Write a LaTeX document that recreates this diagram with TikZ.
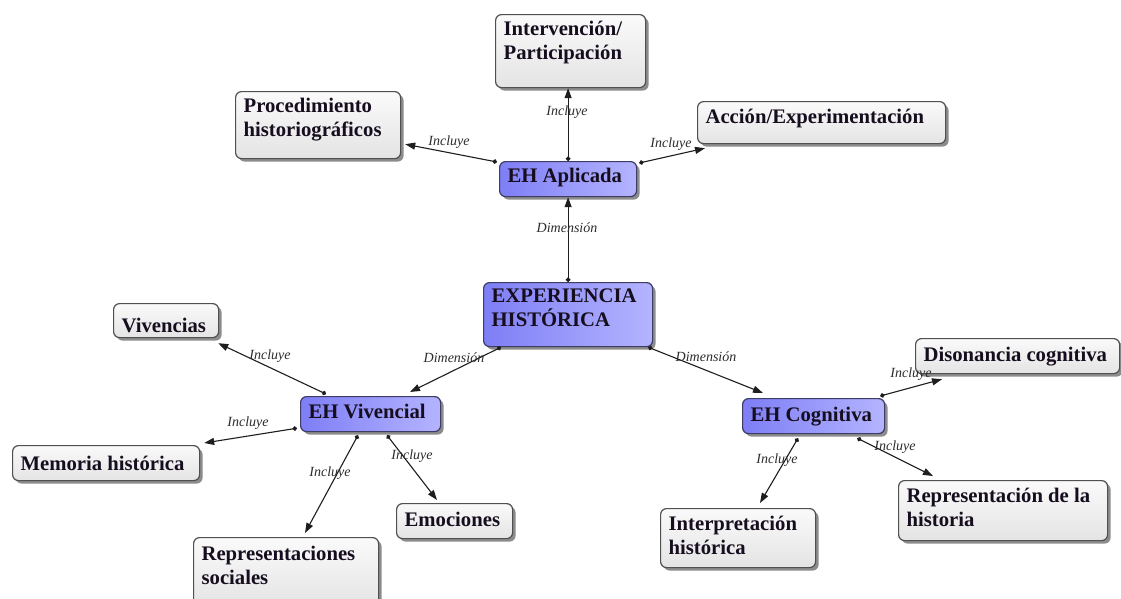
\documentclass[tikz,border=0pt]{standalone}
\usepackage{fontspec}
\setmainfont{Liberation Serif}
\usetikzlibrary{arrows.meta,calc,shadows}

\definecolor{ink}{RGB}{22,14,30}
\definecolor{frame}{RGB}{80,80,80}
\definecolor{bframe}{RGB}{60,60,100}
\definecolor{gtop}{RGB}{250,250,250}
\definecolor{gbot}{RGB}{228,228,228}
\definecolor{bleft}{RGB}{126,126,246}
\definecolor{bright}{RGB}{180,180,255}
\definecolor{wire}{RGB}{30,30,30}
\definecolor{lbltxt}{RGB}{45,45,45}

% fixed-size text block: [first baseline]{width}{height}{text}
\newcommand{\boxtext}[4][21]{\parbox[t][#3pt][t]{#2pt}{\raggedright\fontsize{20.7}{24}\selectfont\bfseries\rule{0pt}{#1pt}#4}}

\tikzset{
  basebox/.style={anchor=north west, rounded corners=6pt, line width=1.2pt,
    inner xsep=8pt, inner ysep=0pt, text=ink,
    drop shadow={shadow xshift=3pt, shadow yshift=-3pt, opacity=0.45, fill=black}},
  gbox/.style={basebox, draw=frame, top color=gtop, bottom color=gbot},
  bbox/.style={basebox, draw=bframe, left color=bleft, right color=bright},
  conn/.style={draw=wire, line width=1.1pt,
    {Circle[length=4.5pt]}-{Triangle[length=10pt,width=7pt]}},
  lbl/.style={font=\fontsize{14}{14}\selectfont\itshape, text=lbltxt, inner sep=0pt}
}

\begin{document}
\begin{tikzpicture}[x=1pt,y=-1pt]
\useasboundingbox[fill=white] (0,0) rectangle (1121,598);

% central concept and its three dimensions
\node[bbox] (exp) at (483,282) {\boxtext[20]{153}{64}{EXPERIENCIA\\HISTÓRICA}};
\node[bbox] (aplic) at (499,161) {\boxtext{121}{35}{EH Aplicada}};
\node[bbox] (vivencial) at (300,396) {\boxtext[22]{124}{35}{EH Vivencial}};
\node[bbox] (cogn) at (742,398) {\boxtext[23]{126}{35}{EH Cognitiva}};

% EH Aplicada
\node[gbox] (interv) at (495,14) {\boxtext{134}{73}{Intervención/\\Participación}};
\node[gbox] (proc) at (235,91) {\boxtext{149}{67}{Procedimiento\\historiográficos}};
\node[gbox] (accion) at (697,101) {\boxtext[22]{232}{42}{Acción/Experimentación}};

% EH Vivencial
\node[gbox] (viv) at (113,303) {\boxtext[29]{89}{34}{Vivencias}};
\node[gbox] (memoria) at (12,445) {\boxtext[25]{171}{35}{Memoria histórica}};
\node[gbox] (rsoc) at (193,537) {\boxtext[23]{169}{70}{Representaciones\\sociales}};
\node[gbox] (emoc) at (396,503) {\boxtext[23]{100}{35}{Emociones}};

% EH Cognitiva
\node[gbox] (dison) at (915,338) {\boxtext[23]{188}{35}{Disonancia cognitiva}};
\node[gbox] (interp) at (660,508) {\boxtext[22]{139}{59}{Interpretación\\histórica}};
\node[gbox] (rhist) at (898,480) {\boxtext[22]{193}{60}{Representación de la\\historia}};

% connectors
\draw[conn] (exp.north) -- (exp.north |- aplic.south);
\draw[conn] ($(exp.south west)+(18,0)$) -- ($(vivencial.north west)+(110,-4)$);
\draw[conn] ($(exp.south east)+(-5,0)$) -- ($(cogn.north west)+(21,-5)$);

\draw[conn] (aplic.north) -- (aplic.north |- interv.south);
\draw[conn] ($(aplic.north west)+(-2,1)$) -- ($(proc.south east)+(4,-15)$);
\draw[conn] ($(aplic.north east)+(2,2)$) -- ($(accion.south west)+(8,4)$);

\draw[conn] ($(vivencial.north west)+(26,-2)$) -- ($(viv.south east)+(-1,5)$);
\draw[conn] ($(vivencial.south west)+(-3,-4)$) -- ($(memoria.north east)+(4,-2)$);
\draw[conn] ($(vivencial.south west)+(58,3)$) -- ($(rsoc.north west)+(112,-4)$);
\draw[conn] ($(vivencial.south west)+(87,3)$) -- ($(emoc.north west)+(41,-3)$);

\draw[conn] ($(cogn.north east)+(-5,-2)$) -- ($(dison.south west)+(27,5)$);
\draw[conn] ($(cogn.south east)+(-28,4)$) -- ($(rhist.north west)+(35,-4)$);
\draw[conn] ($(cogn.south west)+(56,4)$) -- ($(interp.north west)+(100,-5)$);

% link phrases
\node[lbl] (l1) at (567,228) {Dimensión};
\node[lbl] (l2) at (454,358) {Dimensión};
\node[lbl] (l3) at (706,357) {Dimensión};
\node[lbl] (l4) at (567,112) {Incluye};
\node[lbl] (l5) at (449,142) {Incluye};
\node[lbl] (l6) at (671,144) {Incluye};
\node[lbl] (l7) at (270,356) {Incluye};
\node[lbl] (l8) at (248,423) {Incluye};
\node[lbl] (l9) at (330,473) {Incluye};
\node[lbl] (l10) at (412,456) {Incluye};
\node[lbl] (l11) at (911,374) {Incluye};
\node[lbl] (l12) at (895,447) {Incluye};
\node[lbl] (l13) at (777,460) {Incluye};
\end{tikzpicture}
\end{document}
